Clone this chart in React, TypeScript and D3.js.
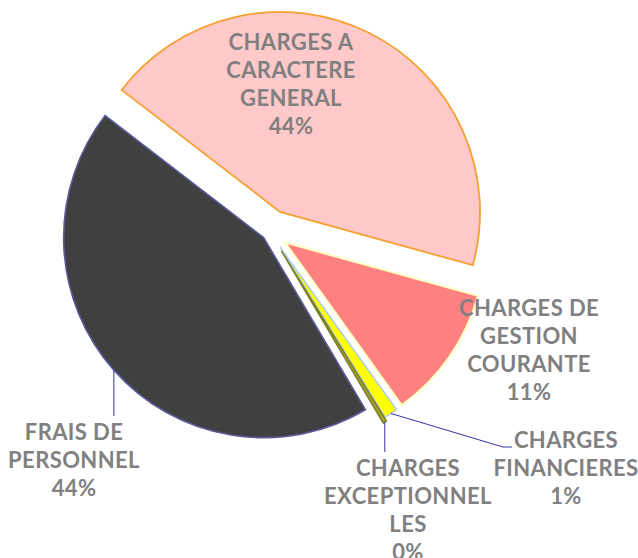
import React from "react";
import * as d3 from "d3";

const categories = [
  "CHARGES A CARACTERE GENERAL",
  "CHARGES DE GESTION COURANTE",
  "CHARGES FINANCIERES",
  "CHARGES EXCEPTIONNELLES",
  "FRAIS DE PERSONNEL",
];
const values = [43.8, 10.8, 1.1, 0.3, 43.9];
const labelLines = [
  ["CHARGES A", "CARACTERE", "GENERAL"],
  ["CHARGES DE", "GESTION", "COURANTE"],
  ["CHARGES", "FINANCIERES"],
  ["CHARGES", "EXCEPTIONNEL", "LES"],
  ["FRAIS DE", "PERSONNEL"],
];

// styling / layout
const W = 638;
const H = 558;
const CX = 270;
const CY = 232;
const R = 200;
const START = (307.6 * Math.PI) / 180;
const fills = ["#FFC9C9", "#FF8080", "#FFFF00", "#A3A332", "#404040"];
const strokes = ["#F7A030", "#FFFFC0", "#A9CDEB", "#7F7F22", "#5A5A9A"];
const strokeW = [1.8, 2, 1.5, 1.5, 1.6];
const explode = [22.4, 18.5, 18, 22, 8.5];
// label center x, first baseline y
const labelPos = [
  [291, 50],
  [529, 316],
  [566, 448],
  [408, 476],
  [74, 440],
];
// leader end points (after start at slice outer mid point)
const leaders: (number[][] | null)[] = [
  null,
  null,
  [[503, 447], [512, 447]],
  [[null as any, 452]],
  [[null as any, 416]],
];

export default function App() {
  const total = d3.sum(values);
  const pie = d3
    .pie<number>()
    .sort(null)
    .value((d) => d)
    .startAngle(START)
    .endAngle(START + 2 * Math.PI);
  const arcs = pie(values);
  const arc = d3.arc<d3.PieArcDatum<number>>().innerRadius(0).outerRadius(R);
  const fmt = d3.format(".0%");

  return (
    <svg
      width={W}
      height={H}
      style={{ position: "absolute", left: 0, top: 0, background: "#fff" }}
    >
      {arcs.map((a, i) => {
        const mid = (a.startAngle + a.endAngle) / 2;
        const dx = CX + explode[i] * Math.sin(mid);
        const dy = CY - explode[i] * Math.cos(mid);
        return (
          <path
            key={categories[i]}
            d={arc(a) || ""}
            transform={`translate(${dx},${dy})`}
            fill={fills[i]}
            stroke={strokes[i]}
            strokeWidth={strokeW[i]}
            strokeLinejoin="miter"
          />
        );
      })}
      {arcs.map((a, i) => {
        const l = leaders[i];
        if (!l) return null;
        const mid = (a.startAngle + a.endAngle) / 2;
        const sx = CX + (explode[i] + R) * Math.sin(mid);
        const sy = CY - (explode[i] + R) * Math.cos(mid);
        const pts = [[sx, sy], ...l.map((p) => [p[0] == null ? sx : p[0], p[1]])];
        return (
          <path
            key={"l" + i}
            d={d3.line()(pts as [number, number][]) || ""}
            fill="none"
            stroke="#3535A5"
            strokeWidth={1}
          />
        );
      })}
      {categories.map((c, i) => {
        const lines = [...labelLines[i], fmt(values[i] / total)];
        return (
          <text
            key={"t" + i}
            x={labelPos[i][0]}
            y={labelPos[i][1]}
            textAnchor="middle"
            fontFamily="Lato, 'Open Sans', sans-serif"
            fontWeight="bold"
            fontSize={22}
            letterSpacing={0.4}
            fill="#808080"
          >
            {lines.map((ln, k) => (
              <tspan key={k} x={labelPos[i][0]} y={labelPos[i][1] + k * 28}>
                {ln}
              </tspan>
            ))}
          </text>
        );
      })}
    </svg>
  );
}
